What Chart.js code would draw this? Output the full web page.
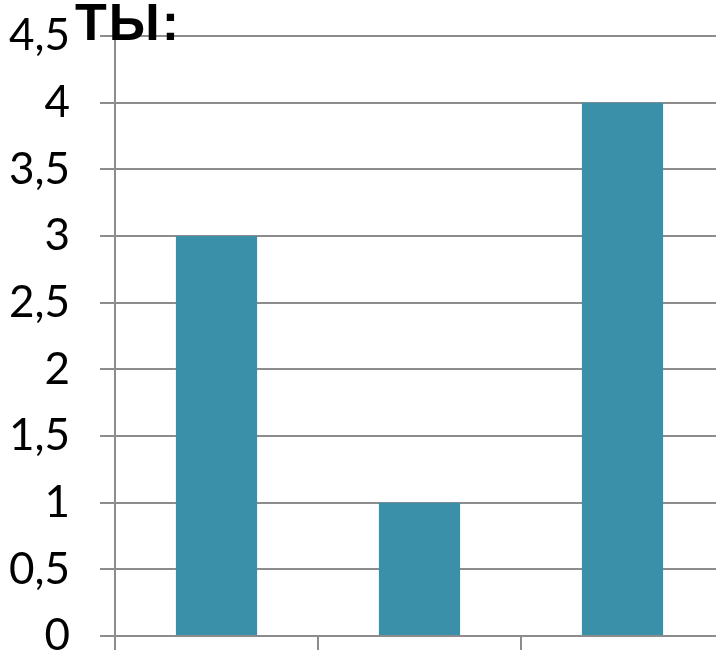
<!DOCTYPE html>
<html>
<head>
<meta charset="utf-8">
<script src="https://cdn.jsdelivr.net/npm/chart.js@4"></script>
<style>
  html, body { margin: 0; padding: 0; background: #fff; overflow: hidden; }
  #wrap { position: relative; width: 740px; height: 656px; }
  #title { position: absolute; left: 75px; top: -8px; font-family: "Liberation Sans", Arial, sans-serif; font-weight: bold; font-size: 52px; color: #000; z-index: 2; letter-spacing: 2px; }
</style>
</head>
<body>
<div id="wrap">
  <canvas id="c" width="740" height="656"></canvas>
  <div id="title">ТЫ:</div>
</div>
<script>
const categories = ['', '', ''];
const values = [3, 1, 4];
const yTicks = [0, 0.5, 1, 1.5, 2, 2.5, 3, 3.5, 4, 4.5];

const gridColor = '#8c8c8c';
new Chart(document.getElementById('c'), {
  type: 'bar',
  data: {
    labels: categories,
    datasets: [{
      data: values,
      backgroundColor: '#3a90a8',
      borderWidth: 0,
      barPercentage: 0.4,
      categoryPercentage: 1.0
    }]
  },
  options: {
    responsive: false,
    animation: false,
    devicePixelRatio: 1,
    layout: { padding: { top: 36, right: 16, bottom: 0, left: 0 } },
    plugins: { legend: { display: false }, tooltip: { enabled: false }, title: { display: false } },
    scales: {
      x: {
        grid: { display: true, drawOnChartArea: false, color: gridColor, lineWidth: 2, tickLength: 14, offset: true },
        border: { display: true, color: gridColor, width: 2 },
        ticks: { display: false },
        afterFit: s => { s.height = 20; s.paddingLeft = 0; s.paddingRight = 0; }
      },
      y: {
        min: 0, max: 4.5,
        afterBuildTicks: s => { s.ticks = yTicks.map(v => ({ value: v })); },
        grid: { color: gridColor, lineWidth: 2, tickLength: 15 },
        border: { display: true, color: gridColor, width: 2 },
        ticks: {
          padding: 30,
          color: '#000',
          font: { family: 'Lato, "Open Sans", sans-serif', size: 44 },
          callback: v => String(v).replace('.', ',')
        },
        afterFit: s => { s.width = 115; s.paddingTop = 0; s.paddingBottom = 0; }
      }
    }
  }
});
</script>
</body>
</html>
